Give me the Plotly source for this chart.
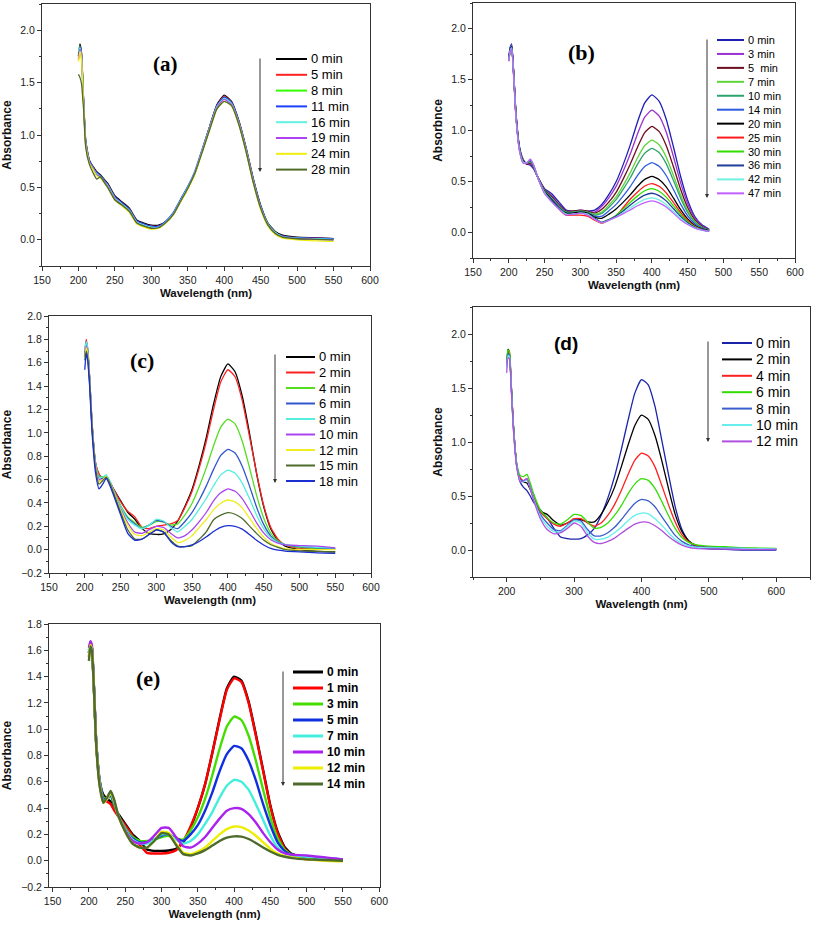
import plotly.graph_objects as go

FIG_W, FIG_H = 813, 931

# ---------------- wavelength grids (nm) ----------------
WL_UV = [200, 202, 204, 207, 210, 215, 220, 225, 230, 235, 240, 250, 260, 270, 280, 290, 300, 310, 320]
WL_VIS = [330, 340, 350, 360, 370, 380, 390, 400, 410, 420, 430, 440, 450, 460, 470, 480]
WL_TAIL = [500, 525, 550]
WL_TAIL_D = [500, 525, 550, 575, 600]
WL_A = WL_UV + WL_VIS + WL_TAIL
WL_B = WL_UV + WL_VIS
WL_C = WL_UV + WL_VIS + WL_TAIL
WL_D = WL_UV + WL_VIS + WL_TAIL_D
WL_E = WL_UV + WL_VIS + WL_TAIL

# ---------------- panel (a) ----------------
A_LABELS = ["0 min", "5 min", "8 min", "11 min", "16 min", "19 min", "24 min", "28 min"]
A_COLORS = ["#000000", "#ff2020", "#33ff00", "#1f3fff", "#5ff2e0", "#b040f0", "#eeee10", "#4f6b28"]
A_0 = [1.75,1.87,1.80,1.35,0.95,0.76,0.70,0.65,0.62,0.58,0.54,0.42,0.36,0.30,0.19,0.16,0.14,0.14,0.175,0.25,0.38,0.50,0.64,0.86,1.08,1.29,1.38,1.32,1.14,0.88,0.58,0.33,0.16,0.08,0.045,0.025,0.02,0.012]
A_5 = [1.72,1.84,1.78,1.33,0.93,0.75,0.69,0.64,0.61,0.57,0.53,0.41,0.35,0.29,0.18,0.15,0.13,0.13,0.17,0.245,0.37,0.49,0.64,0.86,1.08,1.28,1.37,1.31,1.13,0.87,0.57,0.32,0.15,0.07,0.035,0.02,0.015,0.01]
A_8 = [1.78,1.85,1.76,1.32,0.92,0.75,0.69,0.63,0.61,0.57,0.52,0.40,0.34,0.28,0.17,0.14,0.12,0.125,0.17,0.245,0.37,0.49,0.64,0.86,1.07,1.27,1.36,1.30,1.12,0.86,0.56,0.31,0.15,0.07,0.03,0.015,0.01,0.005]
A_11 = [1.76,1.84,1.79,1.34,0.94,0.76,0.69,0.64,0.61,0.57,0.53,0.41,0.35,0.29,0.18,0.15,0.13,0.13,0.18,0.26,0.385,0.51,0.66,0.87,1.08,1.28,1.36,1.31,1.13,0.87,0.57,0.32,0.15,0.07,0.035,0.02,0.015,0.01]
A_16 = [1.80,1.83,1.77,1.32,0.92,0.74,0.68,0.63,0.60,0.56,0.52,0.40,0.34,0.28,0.17,0.14,0.12,0.12,0.17,0.25,0.375,0.50,0.65,0.86,1.07,1.27,1.35,1.30,1.12,0.86,0.56,0.31,0.15,0.07,0.03,0.015,0.01,0.005]
A_19 = [1.72,1.82,1.76,1.31,0.91,0.74,0.68,0.62,0.60,0.56,0.51,0.39,0.33,0.27,0.16,0.13,0.11,0.115,0.165,0.24,0.365,0.49,0.64,0.85,1.06,1.26,1.34,1.29,1.11,0.85,0.55,0.30,0.14,0.06,0.025,0.01,0.005,0.0]
A_24 = [1.70,1.80,1.74,1.30,0.90,0.73,0.67,0.61,0.59,0.55,0.50,0.38,0.32,0.26,0.15,0.12,0.10,0.11,0.16,0.235,0.36,0.48,0.63,0.84,1.05,1.25,1.32,1.28,1.10,0.84,0.54,0.29,0.13,0.05,0.015,0.0,-0.01,-0.015]
A_28 = [1.58,1.55,1.50,1.25,0.88,0.72,0.64,0.58,0.60,0.55,0.50,0.38,0.33,0.27,0.16,0.13,0.11,0.115,0.165,0.24,0.365,0.49,0.64,0.84,1.05,1.25,1.32,1.28,1.10,0.84,0.54,0.30,0.14,0.06,0.025,0.01,0.005,0.0]
A_SERIES = [A_0, A_5, A_8, A_11, A_16, A_19, A_24, A_28]

# ---------------- panel (b) ----------------
B_LABELS = ["0 min", "3 min", "5\u00a0 min", "7 min", "10 min", "14 min", "20 min", "25 min", "30 min", "36 min", "42 min", "47 min"]
B_COLORS = ["#1f1fb4", "#9b30d0", "#6b0d1e", "#5fd43a", "#2ea36b", "#2d5be0", "#000000", "#ff1a1a", "#33dd00", "#1f3d99", "#6ff0e0", "#c060ff"]
B_0 = [1.72,1.82,1.85,1.55,1.18,0.84,0.72,0.67,0.66,0.62,0.55,0.43,0.38,0.30,0.22,0.21,0.21,0.21,0.22, 0.275,0.373,0.497,0.668,0.864,1.086,1.27,1.35,1.288,1.111,0.843,0.554,0.317,0.157,0.075,0.031]
B_3 = [1.70,1.80,1.84,1.55,1.17,0.83,0.71,0.67,0.67,0.63,0.55,0.42,0.36,0.28,0.21,0.21,0.22,0.21,0.20, 0.257,0.343,0.452,0.602,0.774,0.969,1.13,1.20,1.144,0.986,0.748,0.492,0.282,0.14,0.067,0.028]
B_5 = [1.71,1.80,1.83,1.54,1.17,0.83,0.71,0.67,0.68,0.63,0.55,0.42,0.35,0.27,0.21,0.21,0.22,0.21,0.19, 0.228,0.30,0.394,0.526,0.673,0.839,0.979,1.04,0.991,0.853,0.647,0.427,0.245,0.123,0.059,0.025]
B_7 = [1.70,1.79,1.83,1.54,1.16,0.83,0.71,0.68,0.69,0.64,0.55,0.41,0.34,0.26,0.20,0.20,0.21,0.20,0.18, 0.201,0.269,0.349,0.462,0.589,0.733,0.853,0.905,0.861,0.741,0.562,0.371,0.214,0.108,0.052,0.022]
B_10 = [1.69,1.79,1.82,1.53,1.16,0.82,0.70,0.68,0.70,0.64,0.55,0.41,0.33,0.25,0.20,0.20,0.21,0.20,0.17, 0.187,0.248,0.322,0.425,0.539,0.67,0.777,0.825,0.784,0.675,0.512,0.339,0.196,0.099,0.048,0.02]
B_14 = [1.70,1.80,1.83,1.54,1.16,0.82,0.70,0.68,0.70,0.64,0.55,0.40,0.33,0.25,0.19,0.19,0.20,0.19,0.16, 0.16,0.213,0.276,0.36,0.453,0.56,0.647,0.685,0.65,0.559,0.424,0.281,0.164,0.084,0.041,0.018]
B_20 = [1.69,1.79,1.82,1.53,1.15,0.82,0.70,0.68,0.71,0.65,0.55,0.40,0.32,0.24,0.19,0.19,0.20,0.19,0.15, 0.139,0.18,0.231,0.298,0.371,0.453,0.521,0.55,0.52,0.447,0.339,0.226,0.133,0.069,0.035,0.015]
B_25 = [1.68,1.78,1.81,1.52,1.15,0.81,0.69,0.68,0.71,0.65,0.55,0.39,0.31,0.23,0.17,0.17,0.17,0.16,0.12, 0.09,0.12,0.16,0.245,0.328,0.398,0.456,0.48,0.453,0.389,0.295,0.197,0.117,0.061,0.031,0.013]
B_30 = [1.69,1.78,1.81,1.52,1.15,0.81,0.69,0.68,0.71,0.65,0.55,0.39,0.31,0.24,0.18,0.18,0.19,0.18,0.14, 0.10,0.13,0.17,0.23,0.297,0.359,0.409,0.43,0.405,0.347,0.263,0.177,0.105,0.056,0.029,0.012]
B_36 = [1.70,1.79,1.82,1.52,1.15,0.81,0.69,0.68,0.71,0.65,0.55,0.39,0.31,0.24,0.18,0.18,0.19,0.18,0.14, 0.10,0.125,0.16,0.21,0.27,0.324,0.367,0.385,0.362,0.31,0.235,0.158,0.095,0.051,0.027,0.012]
B_42 = [1.69,1.78,1.81,1.52,1.14,0.80,0.69,0.68,0.72,0.66,0.55,0.39,0.30,0.23,0.18,0.18,0.19,0.18,0.13, 0.095,0.12,0.15,0.195,0.243,0.288,0.325,0.34,0.319,0.272,0.206,0.14,0.084,0.046,0.024,0.011]
B_47 = [1.68,1.77,1.80,1.51,1.14,0.80,0.68,0.68,0.72,0.66,0.55,0.38,0.30,0.23,0.17,0.18,0.19,0.17,0.13, 0.095,0.12,0.15,0.185,0.222,0.262,0.293,0.31,0.29,0.25,0.19,0.125,0.078,0.043,0.023,0.01]
B_SERIES = [B_0, B_3, B_5, B_7, B_10, B_14, B_20, B_25, B_30, B_36, B_42, B_47]

# ---------------- panel (c) ----------------
C_LABELS = ["0 min", "2 min", "4 min", "6 min", "8 min", "10 min", "12 min", "15 min", "18 min"]
C_COLORS = ["#000000", "#ff2020", "#55dd22", "#3355cc", "#55eedd", "#aa44ee", "#eeee22", "#4d6b2a", "#1a2fd0"]
C_0 = [1.65,1.72,1.70,1.45,1.10,0.74,0.64,0.62,0.63,0.58,0.52,0.42,0.32,0.26,0.18,0.14,0.13,0.135,0.17, 0.245,0.372,0.518,0.726,0.966,1.247,1.481,1.59,1.523,1.315,1.003,0.655,0.369,0.177,0.078,0.03, 0.0,-0.015,-0.02]
C_2 = [1.70,1.80,1.72,1.45,1.10,0.75,0.65,0.61,0.62,0.58,0.52,0.41,0.33,0.28,0.19,0.18,0.20,0.21,0.22, 0.25,0.36,0.50,0.70,0.93,1.20,1.434,1.54,1.48,1.278,0.975,0.66,0.38,0.19,0.09,0.04, 0.012,0.006,0.005]
C_4 = [1.68,1.75,1.70,1.43,1.08,0.73,0.63,0.62,0.63,0.58,0.51,0.38,0.28,0.23,0.19,0.21,0.24,0.235,0.21, 0.221,0.298,0.397,0.54,0.704,0.89,1.049,1.117,1.076,0.93,0.707,0.467,0.271,0.14,0.075,0.042, 0.02,0.012,0.008]
C_6 = [1.66,1.78,1.72,1.44,1.08,0.73,0.62,0.61,0.63,0.58,0.51,0.37,0.27,0.22,0.18,0.21,0.25,0.24,0.20, 0.18,0.241,0.319,0.425,0.548,0.687,0.807,0.858,0.827,0.714,0.548,0.365,0.216,0.116,0.067,0.042, 0.025,0.015,0.01]
C_8 = [1.70,1.78,1.73,1.45,1.09,0.74,0.62,0.62,0.64,0.59,0.51,0.37,0.26,0.21,0.18,0.21,0.26,0.245,0.19, 0.153,0.20,0.26,0.346,0.44,0.547,0.64,0.68,0.654,0.57,0.44,0.297,0.18,0.102,0.063,0.043, 0.03,0.02,0.015]
C_10 = [1.68,1.74,1.70,1.43,1.07,0.72,0.60,0.60,0.62,0.57,0.50,0.35,0.23,0.15,0.14,0.17,0.20,0.19,0.14, 0.10,0.12,0.17,0.24,0.32,0.417,0.486,0.52,0.50,0.437,0.339,0.231,0.143,0.084,0.055,0.04, 0.035,0.03,0.015]
C_12 = [1.64,1.73,1.68,1.42,1.06,0.71,0.58,0.60,0.63,0.57,0.50,0.34,0.21,0.13,0.12,0.15,0.18,0.17,0.11, 0.06,0.08,0.12,0.19,0.26,0.342,0.397,0.425,0.409,0.357,0.272,0.184,0.107,0.054,0.025,0.008, 0.0,0.0,0.0]
C_15 = [1.62,1.70,1.65,1.40,1.05,0.70,0.56,0.59,0.62,0.57,0.49,0.32,0.17,0.09,0.09,0.13,0.17,0.15,0.08, 0.03,0.025,0.035,0.09,0.155,0.256,0.295,0.316,0.303,0.266,0.203,0.139,0.082,0.042,0.02,0.0, -0.01,-0.015,-0.02]
C_18 = [1.54,1.68,1.62,1.38,1.02,0.66,0.52,0.56,0.61,0.55,0.47,0.30,0.14,0.08,0.09,0.13,0.17,0.15,0.07, 0.025,0.025,0.04,0.07,0.11,0.155,0.19,0.205,0.20,0.175,0.13,0.08,0.04,0.01,-0.005,-0.012, -0.02,-0.028,-0.032]
C_SERIES = [C_0, C_2, C_4, C_6, C_8, C_10, C_12, C_15, C_18]

# ---------------- panel (d) ----------------
D_LABELS = ["0 min", "2 min", "4 min", "6 min", "8 min", "10 min", "12 min"]
D_COLORS = ["#1a22aa", "#000000", "#ff2020", "#33dd00", "#3a5fcd", "#66eeee", "#b050e0"]
D_0 = [1.72,1.82,1.80,1.50,1.15,0.78,0.63,0.58,0.55,0.50,0.44,0.37,0.30,0.20,0.12,0.105,0.10,0.105,0.14, 0.20,0.32,0.48,0.68,0.93,1.20,1.45,1.578,1.53,1.33,1.02,0.70,0.40,0.19,0.08,0.035, 0.01,0.005,0.0,0.0,0.0]
D_2 = [1.74,1.86,1.83,1.50,1.15,0.78,0.66,0.63,0.62,0.56,0.48,0.36,0.33,0.27,0.23,0.25,0.28,0.28,0.26, 0.26,0.33,0.44,0.58,0.77,0.97,1.15,1.248,1.21,1.06,0.83,0.57,0.33,0.17,0.085,0.045, 0.02,0.015,0.01,0.01,0.005]
D_4 = [1.72,1.84,1.82,1.49,1.14,0.78,0.67,0.64,0.65,0.58,0.49,0.35,0.29,0.24,0.22,0.25,0.29,0.29,0.25, 0.22,0.25,0.32,0.42,0.55,0.70,0.83,0.897,0.87,0.77,0.60,0.42,0.26,0.14,0.075,0.045, 0.025,0.02,0.015,0.012,0.01]
D_6 = [1.75,1.85,1.84,1.50,1.15,0.80,0.69,0.68,0.70,0.62,0.52,0.37,0.30,0.25,0.24,0.28,0.33,0.32,0.26, 0.20,0.21,0.25,0.32,0.41,0.52,0.61,0.66,0.645,0.57,0.45,0.32,0.20,0.115,0.07,0.05, 0.035,0.03,0.02,0.018,0.015]
D_8 = [1.70,1.82,1.80,1.48,1.13,0.78,0.65,0.64,0.66,0.58,0.48,0.33,0.25,0.19,0.18,0.23,0.28,0.27,0.19, 0.13,0.13,0.16,0.21,0.28,0.36,0.43,0.468,0.455,0.40,0.31,0.22,0.135,0.08,0.048,0.032, 0.025,0.02,0.015,0.012,0.01]
D_10 = [1.68,1.80,1.79,1.47,1.12,0.77,0.64,0.63,0.65,0.57,0.47,0.31,0.22,0.17,0.17,0.22,0.27,0.25,0.16, 0.10,0.10,0.12,0.16,0.21,0.27,0.32,0.342,0.335,0.29,0.23,0.16,0.10,0.06,0.036,0.026, 0.02,0.018,0.015,0.012,0.01]
D_12 = [1.64,1.78,1.77,1.46,1.11,0.76,0.63,0.64,0.66,0.57,0.46,0.29,0.19,0.15,0.16,0.20,0.25,0.22,0.13, 0.07,0.06,0.08,0.11,0.155,0.20,0.24,0.259,0.255,0.225,0.18,0.125,0.08,0.045,0.025,0.015, 0.01,0.008,0.006,0.005,0.005]
D_SERIES = [D_0, D_2, D_4, D_6, D_8, D_10, D_12]

# ---------------- panel (e) ----------------
E_LABELS = ["0 min", "1 min", "3 min", "5 min", "7 min", "10 min", "12 min", "14 min"]
E_COLORS = ["#000000", "#ff0000", "#44dd00", "#1030e0", "#44eedd", "#aa22ee", "#eeee00", "#4d6b2a"]
E_0 = [1.58,1.66,1.62,1.30,0.90,0.60,0.50,0.47,0.45,0.40,0.36,0.28,0.20,0.15,0.085,0.075,0.075,0.078,0.09, 0.14,0.25,0.40,0.58,0.82,1.08,1.31,1.40,1.37,1.21,0.96,0.69,0.42,0.22,0.10,0.05, 0.02,0.01,0.005]
E_1 = [1.55,1.65,1.62,1.30,0.90,0.58,0.48,0.45,0.43,0.38,0.34,0.27,0.19,0.12,0.06,0.055,0.055,0.06,0.08, 0.15,0.26,0.40,0.58,0.82,1.07,1.30,1.387,1.36,1.20,0.95,0.68,0.41,0.21,0.09,0.04, 0.01,0.005,0.0]
E_3 = [1.60,1.66,1.63,1.31,0.91,0.60,0.48,0.47,0.49,0.42,0.35,0.25,0.18,0.15,0.15,0.16,0.18,0.19,0.17, 0.16,0.23,0.33,0.47,0.65,0.85,1.02,1.096,1.07,0.95,0.76,0.54,0.33,0.17,0.08,0.045, 0.025,0.015,0.005]
E_5 = [1.58,1.66,1.62,1.31,0.91,0.60,0.47,0.47,0.50,0.43,0.35,0.24,0.17,0.14,0.14,0.16,0.19,0.20,0.17, 0.15,0.20,0.27,0.38,0.52,0.68,0.81,0.873,0.855,0.76,0.61,0.43,0.27,0.14,0.07,0.045, 0.03,0.02,0.01]
E_7 = [1.60,1.65,1.62,1.30,0.90,0.59,0.46,0.47,0.51,0.44,0.35,0.24,0.16,0.13,0.13,0.16,0.20,0.20,0.16, 0.13,0.15,0.20,0.28,0.37,0.48,0.57,0.615,0.60,0.54,0.43,0.31,0.19,0.10,0.055,0.04, 0.03,0.02,0.01]
E_10 = [1.62,1.67,1.64,1.31,0.90,0.58,0.45,0.47,0.52,0.45,0.35,0.23,0.15,0.13,0.14,0.19,0.25,0.25,0.18, 0.11,0.10,0.13,0.18,0.25,0.32,0.38,0.40,0.395,0.355,0.29,0.21,0.14,0.085,0.055,0.045, 0.04,0.025,0.01]
E_12 = [1.55,1.64,1.61,1.29,0.89,0.57,0.44,0.47,0.52,0.45,0.35,0.22,0.13,0.10,0.10,0.15,0.22,0.21,0.13, 0.06,0.05,0.07,0.10,0.15,0.20,0.24,0.26,0.255,0.23,0.19,0.14,0.09,0.055,0.035,0.025, 0.01,0.0,-0.005]
E_14 = [1.52,1.63,1.60,1.29,0.88,0.56,0.44,0.48,0.53,0.46,0.35,0.22,0.13,0.10,0.10,0.15,0.21,0.20,0.12, 0.05,0.04,0.055,0.08,0.115,0.15,0.175,0.185,0.183,0.165,0.135,0.10,0.07,0.045,0.03,0.02, 0.01,0.005,0.0]
E_SERIES = [E_0, E_1, E_3, E_5, E_7, E_10, E_12, E_14]

# ---------------- layout helpers ----------------
SANS = "Liberation Sans, Arial, sans-serif"
SERIF = "Liberation Serif, Times New Roman, serif"
AX_COL = "#333333"


def px_x(v):
    return v / FIG_W


def px_y(v):
    return 1 - v / FIG_H


PANELS = [
    dict(tag="(a)", tagfont=SERIF, tagsize=21, tagpos=(165, 64), wl=WL_A, series=A_SERIES, labels=A_LABELS,
         colors=A_COLORS, box=(42, 370, 4, 266), xr=[150, 600], xt=list(range(150, 601, 50)), xminor=25,
         yr=[-0.25, 2.25], yt=[0, 0.5, 1.0, 1.5, 2.0], yminor=0.25, ytitle="Absorbance", lw=1.3,
         leg=dict(y0=59, dy=15.8, lx0=276, lx1=307, tx=309, size=13, bold=False, lw=2),
         arrow=(260, 57, 172)),
    dict(tag="(b)", tagfont=SERIF, tagsize=22, tagpos=(581, 52), wl=WL_B, series=B_SERIES, labels=B_LABELS,
         colors=B_COLORS, box=(473, 795, 3, 258), xr=[150, 600], xt=list(range(150, 601, 50)), xminor=25,
         yr=[-0.25, 2.25], yt=[0, 0.5, 1.0, 1.5, 2.0], yminor=0.25, ytitle="Absorbnce", lw=1.3,
         leg=dict(y0=40, dy=13.94, lx0=717, lx1=744, tx=746, size=11, bold=False, lw=2),
         arrow=(707, 38, 198)),
    dict(tag="(c)", tagfont=SERIF, tagsize=22, tagpos=(142, 360), wl=WL_C, series=C_SERIES, labels=C_LABELS,
         colors=C_COLORS, box=(49, 371, 316, 573), xr=[150, 600], xt=list(range(150, 601, 50)), xminor=25,
         yr=[-0.2, 2.0], yt=[round(-0.2 + 0.2 * i, 1) for i in range(12)], yminor=0.1, ytitle="Absorbance", lw=1.3,
         leg=dict(y0=357, dy=15.5, lx0=286, lx1=315, tx=317, size=13, bold=False, lw=2),
         arrow=(275, 353, 483)),
    dict(tag="(d)", tagfont=SANS, tagsize=19, tagpos=(566, 343), wl=WL_D, series=D_SERIES, labels=D_LABELS,
         colors=D_COLORS, box=(473, 810, 307, 577), xr=[150, 650], xt=[200, 300, 400, 500, 600], xminor=50,
         yr=[-0.25, 2.25], yt=[0, 0.5, 1.0, 1.5, 2.0], yminor=0.25, ytitle="Absorbance", lw=1.3,
         leg=dict(y0=343, dy=16.4, lx0=722, lx1=752, tx=754, size=14, bold=False, lw=2),
         arrow=(708, 340, 442)),
    dict(tag="(e)", tagfont=SERIF, tagsize=22, tagpos=(148, 678), wl=WL_E, series=E_SERIES, labels=E_LABELS,
         colors=E_COLORS, box=(49, 380, 624, 887), xr=[145, 601], xt=list(range(150, 601, 50)), xminor=25,
         yr=[-0.2, 1.8], yt=[round(-0.2 + 0.2 * i, 1) for i in range(11)], yminor=0.1, ytitle="Absorbance", lw=2.4,
         leg=dict(y0=672, dy=16.0, lx0=293, lx1=323, tx=325, size=12, bold=True, lw=3),
         arrow=(283, 670, 786)),
]

fig = go.Figure()
layout = dict(width=FIG_W, height=FIG_H, margin=dict(l=0, r=0, t=0, b=0, pad=0, autoexpand=False),
              paper_bgcolor="white", plot_bgcolor="white", showlegend=False,
              font=dict(family=SANS, color="#222"))
shapes, annots = [], []

for i, p in enumerate(PANELS):
    n = "" if i == 0 else str(i + 1)
    xa, ya = "x" + n, "y" + n
    x0, x1, yt0, yt1 = p["box"]
    for vals, col in zip(p["series"], p["colors"]):
        fig.add_trace(go.Scatter(x=p["wl"][:len(vals)], y=vals, mode="lines", xaxis=xa, yaxis=ya,
                                 line=dict(color=col, width=p["lw"], shape="spline", smoothing=0.5),
                                 hoverinfo="skip"))
    common = dict(showgrid=False, zeroline=False, showline=True, linecolor=AX_COL, linewidth=1, mirror=True,
                  automargin=False, ticks="outside", ticklen=4, tickcolor=AX_COL,
                  tickfont=dict(size=10.5, family=SANS, color="#222"))
    layout["xaxis" + n] = dict(common, domain=[px_x(x0), px_x(x1)], anchor=ya, range=p["xr"], tickvals=p["xt"],
                               minor=dict(ticks="outside", ticklen=2, dtick=p["xminor"], tickcolor=AX_COL),
                               title=dict(text="<b>Wavelength (nm)</b>", font=dict(size=11.5, family=SANS, color="#111"),
                                          standoff=4))
    layout["yaxis" + n] = dict(common, domain=[px_y(yt1), px_y(yt0)], anchor=xa, range=p["yr"], tickvals=p["yt"],
                               tickformat=".1f",
                               minor=dict(ticks="outside", ticklen=2, dtick=p["yminor"], tickcolor=AX_COL),
                               title=dict(text="<b>%s</b>" % p["ytitle"], font=dict(size=12, family=SANS, color="#111"),
                                          standoff=6))
    annots.append(dict(x=px_x(p["tagpos"][0]), y=px_y(p["tagpos"][1]), xref="paper", yref="paper",
                       text="<b>%s</b>" % p["tag"], showarrow=False, xanchor="center", yanchor="middle",
                       font=dict(family=p["tagfont"], size=p["tagsize"], color="#000")))
    lg = p["leg"]
    for k, (lab, col) in enumerate(zip(p["labels"], p["colors"])):
        yy = lg["y0"] + k * lg["dy"]
        shapes.append(dict(type="line", xref="paper", yref="paper", x0=px_x(lg["lx0"]), x1=px_x(lg["lx1"]),
                           y0=px_y(yy), y1=px_y(yy), line=dict(color=col, width=lg["lw"])))
        txt = "<b>%s</b>" % lab if lg["bold"] else lab
        annots.append(dict(x=px_x(lg["tx"]), y=px_y(yy), xref="paper", yref="paper", text=txt, showarrow=False,
                           xanchor="left", yanchor="middle", font=dict(family=SANS, size=lg["size"], color="#000")))
    ax_x, a_top, a_bot = p["arrow"]
    annots.append(dict(x=px_x(ax_x), y=px_y(a_bot), xref="paper", yref="paper", ax=0, ay=-(a_bot - a_top),
                       text="", showarrow=True, arrowhead=2, arrowsize=0.8, arrowwidth=1, arrowcolor="#333"))

layout["shapes"] = shapes
layout["annotations"] = annots
fig.update_layout(**layout)
fig.write_html("out.html", config={"displayModeBar": False, "staticPlot": True},
               post_script="document.body.style.margin='0px';")
